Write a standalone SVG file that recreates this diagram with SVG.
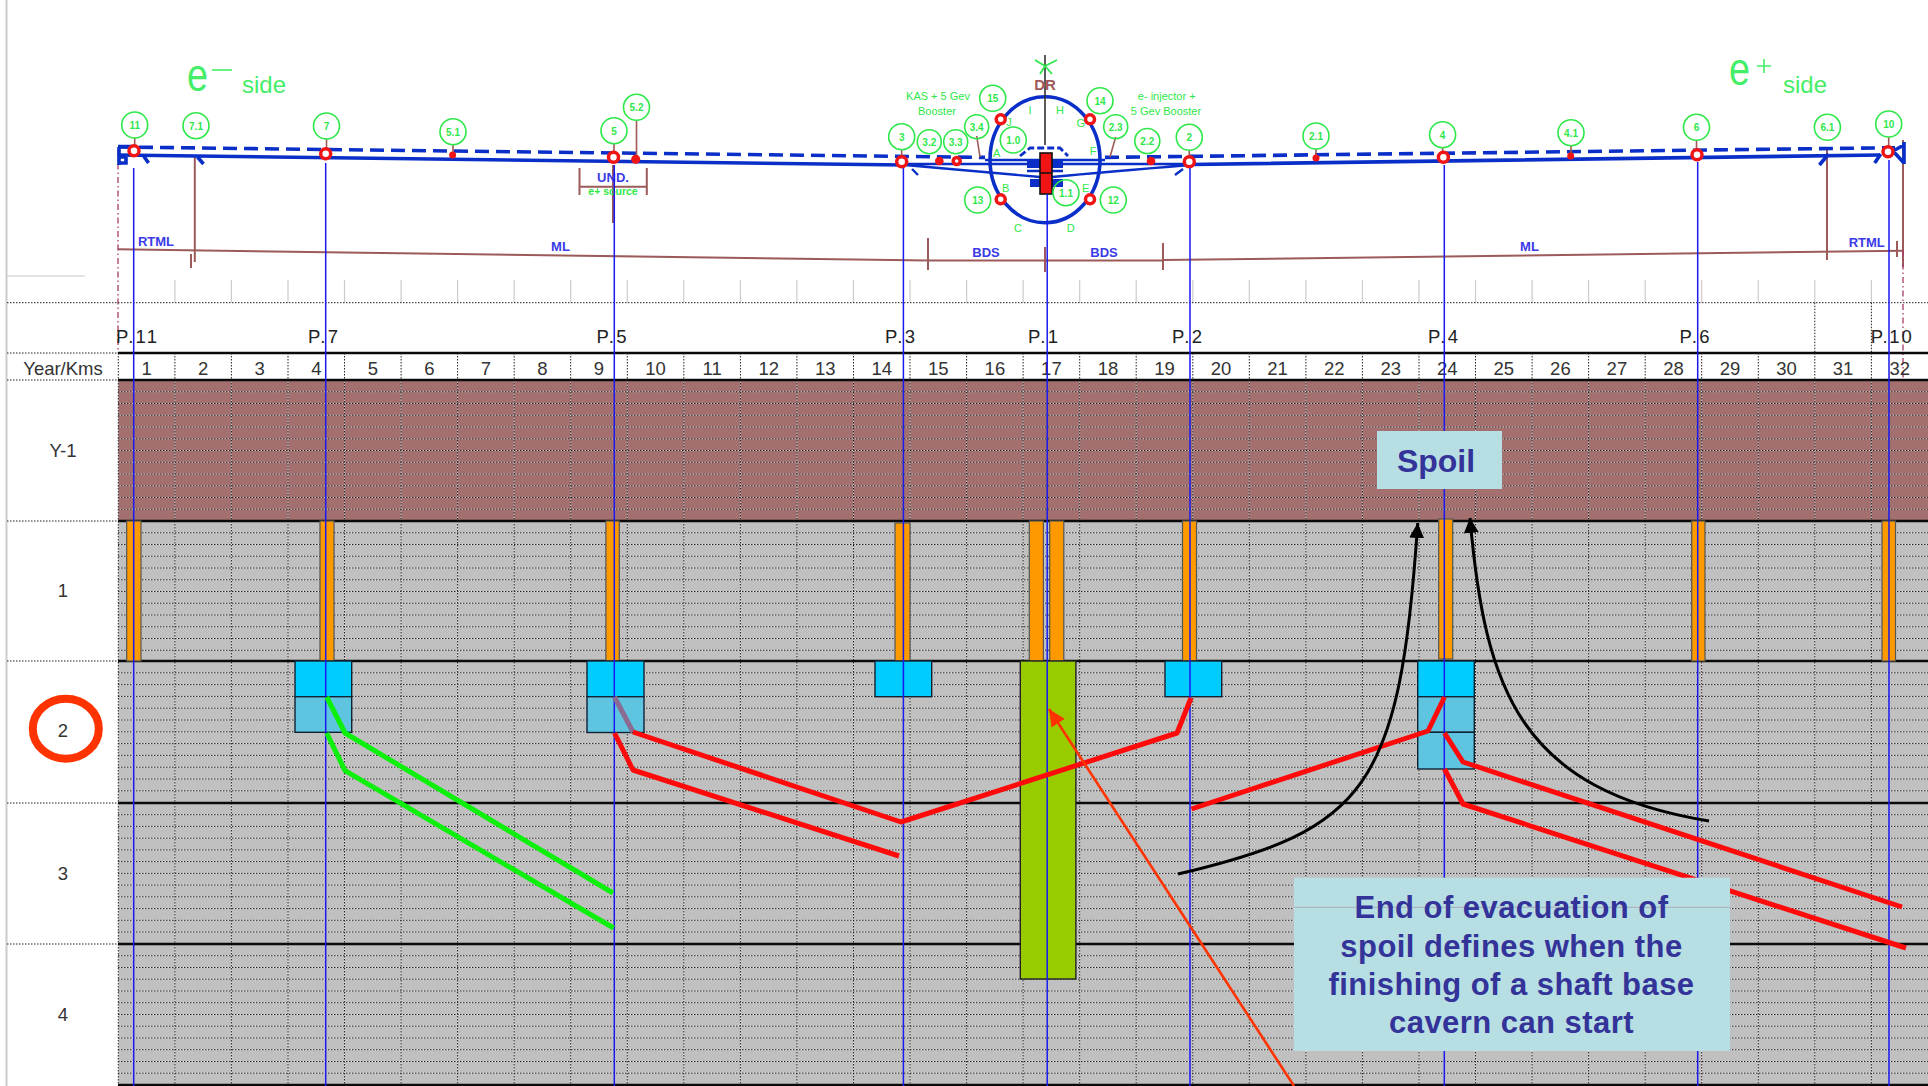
<svg xmlns="http://www.w3.org/2000/svg" xmlns:xlink="http://www.w3.org/1999/xlink" width="1928" height="1086" viewBox="0 0 1928 1086">
<style>
text{font-family:"Liberation Sans",Arial,sans-serif}
.hd{font-size:18.5px;fill:#333;text-anchor:middle}
.p{font-size:18.5px;fill:#222}
.lbl{font-size:18.5px;fill:#333;text-anchor:middle}
.c{fill:#fff;stroke:#2ee84a;stroke-width:1.6}
.ct{font-size:10px;font-weight:bold;fill:#2ee84a;text-anchor:middle}
.gt{font-size:11px;fill:#2ee84a;text-anchor:middle}
.bt{font-size:13px;font-weight:bold;fill:#3a3ae8;text-anchor:middle}
.stem{stroke:#a05858;stroke-width:1.6;fill:none}
.ring{fill:#fff;stroke:#f01414;stroke-width:3.5}
.dot{fill:#f01414}
.beam{stroke:#0a2fc8;stroke-width:3.6;fill:none}
.dash{stroke-dasharray:14 7}
.thin{stroke:#0a2fc8;stroke-width:2.4;fill:none}
.dim{stroke:#9c5a5a;stroke-width:2;fill:none}
.pl{stroke:#1a1af0;stroke-width:1.5;fill:none}
.or{fill:#ff9900;stroke:#555;stroke-width:1.2}
.cy{fill:#00ccff;stroke:#123;stroke-width:1.4}
.cy2{fill:#5fc4e0;stroke:#123;stroke-width:1.4}
.rd{stroke:#ff0a0a;stroke-width:5;fill:none;stroke-linejoin:round}
.gr{stroke:#0cf00c;stroke-width:5;fill:none;stroke-linejoin:round}
.bl{stroke:#000;stroke-width:3;fill:none}
.rule{stroke:#0a0a0a;stroke-width:2.6}
.dw{stroke:#fff;stroke-opacity:.55;stroke-width:1;fill:none}
.dk{stroke:#222;stroke-width:1;stroke-dasharray:1.5 1.5;fill:none}
.callout{fill:#b7dfe3}
.ctext{font-size:31px;font-weight:bold;fill:#333399;text-anchor:middle;letter-spacing:.45px}
</style>
<defs>
<path id="gridH" d="M118 391.75H1928M118 403.5H1928M118 415.25H1928M118 427H1928M118 438.75H1928M118 450.5H1928M118 462.25H1928M118 474H1928M118 485.75H1928M118 497.5H1928M118 509.25H1928M118 532.75H1928M118 544.5H1928M118 556.25H1928M118 568H1928M118 579.75H1928M118 591.5H1928M118 603.25H1928M118 615H1928M118 626.75H1928M118 638.5H1928M118 650.25H1928M118 672.8H1928M118 684.6H1928M118 696.4H1928M118 708.2H1928M118 720H1928M118 731.8H1928M118 743.6H1928M118 755.4H1928M118 767.2H1928M118 779H1928M118 790.8H1928M118 814.7H1928M118 826.4H1928M118 838.2H1928M118 849.9H1928M118 861.6H1928M118 873.4H1928M118 885.1H1928M118 896.8H1928M118 908.6H1928M118 920.3H1928M118 932H1928M118 955.7H1928M118 967.5H1928M118 979.2H1928M118 991H1928M118 1002.7H1928M118 1014.5H1928M118 1026.2H1928M118 1038H1928M118 1049.7H1928M118 1061.5H1928M118 1073.2H1928"/>
<path id="gridV" d="M118.3 380V1086M174.9 380V1086M231.4 380V1086M288 380V1086M344.5 380V1086M401.1 380V1086M457.6 380V1086M514.2 380V1086M570.7 380V1086M627.3 380V1086M683.8 380V1086M740.4 380V1086M796.9 380V1086M853.5 380V1086M910 380V1086M966.6 380V1086M1023.1 380V1086M1079.7 380V1086M1136.2 380V1086M1192.8 380V1086M1249.3 380V1086M1305.9 380V1086M1362.4 380V1086M1419 380V1086M1475.5 380V1086M1532.1 380V1086M1588.6 380V1086M1645.2 380V1086M1701.7 380V1086M1758.3 380V1086M1814.8 380V1086M1871.4 380V1086"/>
<marker id="ah" markerUnits="userSpaceOnUse" markerWidth="18" markerHeight="18" refX="15" refY="7.5" orient="auto"><path d="M0 0L15 7.5L0 15z" fill="#000"/></marker>
<marker id="ar" markerUnits="userSpaceOnUse" markerWidth="20" markerHeight="18" refX="17" refY="8" orient="auto"><path d="M0 0L17 8L0 16z" fill="#ff3300"/></marker>
</defs>
<rect width="1928" height="1086" fill="#fff"/>
<path d="M6.5 0V1086" stroke="#ccc" stroke-width="2"/>
<path d="M7 276H85" stroke="#ccc" stroke-width="1.2"/>

<g id="machine-layout">
<text transform="translate(187 91) scale(.82 1)" font-size="46" fill="#44ee66">e</text>
<path d="M212 70H232" stroke="#44ee66" stroke-width="1.6"/>
<text x="242" y="93" font-size="24" fill="#44ee66" textLength="44" lengthAdjust="spacingAndGlyphs">side</text>
<text transform="translate(1729 85) scale(.82 1)" font-size="46" fill="#44ee66">e</text>
<path d="M1757 66H1771M1764 59V73" stroke="#44ee66" stroke-width="1.6"/>
<text x="1783" y="93" font-size="24" fill="#44ee66" textLength="44" lengthAdjust="spacingAndGlyphs">side</text>

<path class="dim" d="M118 249.3L928 260.5M1163 260L1903 250.7"/>
<path class="dim" d="M928 260.5H1163M928 238V270M1045 247V272M1163 243V270M194.8 156V262M191 254V268M613 165V223M579.5 168V195M646.8 168V195M579.5 186.7H646.8M1827 150V260M1897 241V257M1903 140V267"/>
<path d="M118 150V353M1903 250V420" stroke="#a83a6a" stroke-width="1.3" stroke-dasharray="6 3 1.5 3" fill="none"/>
<path class="beam dash" d="M118 147L985 157.4M1105 157.4L1895 147.7"/>
<path class="beam" d="M118 155L905 165M1190 164.5L1880 155"/>
<path class="beam" d="M118 146.5H132M119 147V165M119 157H126M126 157V163H119M143 155L148.5 163M197.5 157L203.5 164M1828.6 154L1819.4 165M1880.7 154L1874.7 163M1904 142V164M1893 151L1904 145M1893 151L1904 163"/>
<path class="thin" d="M905 165Q985 172 1040 177M1190 165Q1105 172 1052 177M905 164H1190M985 160H1105M912 169L918 175M1183 169L1175 175M1027 171H1063"/>
<path d="M1020 156L1030 148H1060L1068 156" stroke="#0a2fc8" stroke-width="2.8" stroke-dasharray="7 3" fill="none"/>
<rect x="1027" y="160" width="36" height="8" fill="#0a2fc8"/>
<rect x="1030" y="179" width="33" height="8" fill="#0a2fc8"/>
<ellipse cx="1045" cy="159.7" rx="55" ry="63" fill="none" stroke="#0a2fc8" stroke-width="3.6"/>
<path d="M1045 55V145" stroke="#333" stroke-width="1.6"/>
<rect x="1040" y="153" width="12" height="41" fill="#f01414" stroke="#111" stroke-width="1.6"/>
<path d="M1040 173H1052" stroke="#111" stroke-width="1.5"/>
<path d="M1035 60L1045 66L1057 60M1040 74L1045 66L1052 74" stroke="#2ee84a" stroke-width="1.8" fill="none"/>
<text x="1045" y="90" font-size="15" font-weight="bold" fill="#a05858" text-anchor="middle">DR</text>

<path class="stem" d="M134.7 138V150M326.5 139V153M453 145V155M614 144V157M636.5 120V158M901.7 150V161M976.7 136L980 157M1115.7 137L1110 157M1189.3 150V161M1316 149V158M1442.6 148V157M1571 146V155M1696.5 140V154M1888.7 137V151"/>

<g id="n11"><circle class="c" cx="134.7" cy="125" r="13"/><text class="ct" x="134.7" y="129">11</text></g>
<g id="n7-1"><circle class="c" cx="196" cy="125.7" r="13"/><text class="ct" x="196" y="129.5">7.1</text></g>
<g id="n7"><circle class="c" cx="326.5" cy="126" r="13"/><text class="ct" x="326.5" y="130">7</text></g>
<g id="n5-1"><circle class="c" cx="453" cy="131.7" r="13"/><text class="ct" x="453" y="135.5">5.1</text></g>
<g id="n5"><circle class="c" cx="614" cy="130.7" r="13"/><text class="ct" x="614" y="134.5">5</text></g>
<g id="n5-2"><circle class="c" cx="636.5" cy="107.3" r="13"/><text class="ct" x="636.5" y="111">5.2</text></g>
<g id="n3"><circle class="c" cx="901.7" cy="136.7" r="13"/><text class="ct" x="901.7" y="140.5">3</text></g>
<g id="n3-2"><circle class="c" cx="929.3" cy="141.7" r="12" style="fill:none"/><text class="ct" x="929.3" y="145.5">3.2</text></g>
<g id="n3-3"><circle class="c" cx="955.7" cy="141.7" r="12" style="fill:none"/><text class="ct" x="955.7" y="145.5">3.3</text></g>
<g id="n3-4"><circle class="c" cx="976.7" cy="126.7" r="12" style="fill:none"/><text class="ct" x="976.7" y="130.5">3.4</text></g>
<g id="n15"><circle class="c" cx="992.7" cy="98.3" r="13" style="fill:none"/><text class="ct" x="992.7" y="102">15</text></g>
<g id="n1-0"><circle class="c" cx="1013.3" cy="140" r="13" style="fill:none"/><text class="ct" x="1013.3" y="144">1.0</text></g>
<g id="n14"><circle class="c" cx="1100" cy="100.7" r="13" style="fill:none"/><text class="ct" x="1100" y="104.5">14</text></g>
<g id="n2-3"><circle class="c" cx="1115.7" cy="126.7" r="12" style="fill:none"/><text class="ct" x="1115.7" y="130.5">2.3</text></g>
<g id="n2-2"><circle class="c" cx="1147.3" cy="141" r="12.5" style="fill:none"/><text class="ct" x="1147.3" y="145">2.2</text></g>
<g id="n2"><circle class="c" cx="1189.3" cy="137.3" r="13"/><text class="ct" x="1189.3" y="141">2</text></g>
<g id="n13"><circle class="c" cx="977.7" cy="200" r="13" style="fill:none"/><text class="ct" x="977.7" y="204">13</text></g>
<g id="n12"><circle class="c" cx="1113.3" cy="200" r="13" style="fill:none"/><text class="ct" x="1113.3" y="204">12</text></g>
<g id="n1-1"><circle class="c" cx="1066" cy="192.7" r="13" style="fill:none"/><text class="ct" x="1066" y="196.5">1.1</text></g>
<g id="n2-1"><circle class="c" cx="1316" cy="136" r="13"/><text class="ct" x="1316" y="140">2.1</text></g>
<g id="n4"><circle class="c" cx="1442.6" cy="134.7" r="13"/><text class="ct" x="1442.6" y="138.5">4</text></g>
<g id="n4-1"><circle class="c" cx="1571" cy="132.7" r="13"/><text class="ct" x="1571" y="136.5">4.1</text></g>
<g id="n6"><circle class="c" cx="1696.5" cy="127.3" r="13"/><text class="ct" x="1696.5" y="131">6</text></g>
<g id="n6-1"><circle class="c" cx="1827.4" cy="127.3" r="13"/><text class="ct" x="1827.4" y="131">6.1</text></g>
<g id="n10"><circle class="c" cx="1888.7" cy="124" r="13"/><text class="ct" x="1888.7" y="128">10</text></g>

<circle class="ring" cx="134" cy="150.7" r="5"/><circle class="ring" cx="325.7" cy="153.7" r="5"/><circle class="ring" cx="613.5" cy="157.3" r="5"/><circle class="ring" cx="901.7" cy="161.7" r="5"/><circle class="ring" cx="956.7" cy="161" r="3.5"/><circle class="ring" cx="1000.7" cy="119.3" r="4.5"/><circle class="ring" cx="1090" cy="119.3" r="4.5"/><circle class="ring" cx="1000.7" cy="199.3" r="4.5"/><circle class="ring" cx="1090" cy="199.3" r="4.5"/><circle class="ring" cx="1189.3" cy="161.7" r="5"/><circle class="ring" cx="1443.4" cy="157.3" r="5"/><circle class="ring" cx="1697" cy="154.7" r="5"/><circle class="ring" cx="1888" cy="151.7" r="5"/>
<circle class="dot" cx="452.6" cy="155" r="3.5"/><circle class="dot" cx="635.7" cy="159.3" r="4.5"/><circle class="dot" cx="939.3" cy="161" r="4.3"/><circle class="dot" cx="1151" cy="161" r="4.3"/><circle class="dot" cx="1316" cy="158" r="3.5"/><circle class="dot" cx="1570.7" cy="156" r="3.5"/>

<text class="gt" x="938" y="100">KAS + 5 Gev</text><text class="gt" x="937" y="115">Booster</text>
<text class="gt" x="1166.7" y="100">e- injector +</text><text class="gt" x="1166" y="115">5 Gev Booster</text>
<text class="gt" x="1030" y="114">I</text><text class="gt" x="1060" y="114">H</text><text class="gt" x="1009" y="125.5">J</text><text class="gt" x="1080.7" y="127">G</text><text class="gt" x="996.7" y="157">A</text><text class="gt" x="1093" y="155">F</text><text class="gt" x="1005.7" y="192">B</text><text class="gt" x="1085.7" y="192">E</text><text class="gt" x="1018" y="232">C</text><text class="gt" x="1070.7" y="232">D</text>
<text class="bt" x="156" y="246">RTML</text><text class="bt" x="560.5" y="251">ML</text><text class="bt" x="613" y="182">UND.</text>
<text x="613" y="195" font-size="10.5" font-weight="bold" fill="#2ee84a" text-anchor="middle">e+ source</text>
<text class="bt" x="986" y="257">BDS</text><text class="bt" x="1104" y="257">BDS</text><text class="bt" x="1529.5" y="251">ML</text><text class="bt" x="1866.7" y="247">RTML</text>
</g>

<g id="header">
<path d="M174.9 280V302.7M231.4 280V302.7M288 280V302.7M344.5 280V302.7M401.1 280V302.7M457.6 280V302.7M514.2 280V302.7M570.7 280V302.7M627.3 280V302.7M683.8 280V302.7M740.4 280V302.7M796.9 280V302.7M853.5 280V302.7M910 280V302.7M966.6 280V302.7M1023.1 280V302.7M1079.7 280V302.7M1136.2 280V302.7M1192.8 280V302.7M1249.3 280V302.7M1305.9 280V302.7M1362.4 280V302.7M1419 280V302.7M1475.5 280V302.7M1532.1 280V302.7M1588.6 280V302.7M1645.2 280V302.7M1701.7 280V302.7M1758.3 280V302.7M1814.8 280V302.7M1871.4 280V302.7" stroke="#ccc" stroke-width="1.2"/>
<path class="dk" d="M7 302.7H1928M7 353H118M7 380H118M7 521H118M7 661H118M7 803H118M7 944H118M1814.8 302.7V353M1871.4 302.7V353M118.3 353V380M174.9 353V380M231.4 353V380M288 353V380M344.5 353V380M401.1 353V380M457.6 353V380M514.2 353V380M570.7 353V380M627.3 353V380M683.8 353V380M740.4 353V380M796.9 353V380M853.5 353V380M910 353V380M966.6 353V380M1023.1 353V380M1079.7 353V380M1136.2 353V380M1192.8 353V380M1249.3 353V380M1305.9 353V380M1362.4 353V380M1419 353V380M1475.5 353V380M1532.1 353V380M1588.6 353V380M1645.2 353V380M1701.7 353V380M1758.3 353V380M1814.8 353V380M1871.4 353V380"/>
<path class="rule" d="M118 353H1928"/>
<text class="p" x="116" y="343" textLength="41">P.11</text><text class="p" x="308" y="343" textLength="30">P.7</text><text class="p" x="596.5" y="343" textLength="30">P.5</text><text class="p" x="885" y="343" textLength="30">P.3</text><text class="p" x="1028" y="343" textLength="30">P.1</text><text class="p" x="1172" y="343" textLength="30">P.2</text><text class="p" x="1428" y="343" textLength="30">P.4</text><text class="p" x="1679.6" y="343" textLength="30">P.6</text><text class="p" x="1870.7" y="343" textLength="41">P.10</text>
<text class="lbl" x="63" y="375">Year/Kms</text>
<text class="hd" x="146.6" y="375">1</text><text class="hd" x="203.2" y="375">2</text><text class="hd" x="259.7" y="375">3</text><text class="hd" x="316.3" y="375">4</text><text class="hd" x="372.8" y="375">5</text><text class="hd" x="429.4" y="375">6</text><text class="hd" x="485.9" y="375">7</text><text class="hd" x="542.5" y="375">8</text><text class="hd" x="599" y="375">9</text><text class="hd" x="655.6" y="375">10</text><text class="hd" x="712.1" y="375">11</text><text class="hd" x="768.7" y="375">12</text><text class="hd" x="825.2" y="375">13</text><text class="hd" x="881.8" y="375">14</text><text class="hd" x="938.3" y="375">15</text><text class="hd" x="994.9" y="375">16</text><text class="hd" x="1051.4" y="375">17</text><text class="hd" x="1108" y="375">18</text><text class="hd" x="1164.5" y="375">19</text><text class="hd" x="1221.1" y="375">20</text><text class="hd" x="1277.6" y="375">21</text><text class="hd" x="1334.2" y="375">22</text><text class="hd" x="1390.7" y="375">23</text><text class="hd" x="1447.3" y="375">24</text><text class="hd" x="1503.8" y="375">25</text><text class="hd" x="1560.4" y="375">26</text><text class="hd" x="1616.9" y="375">27</text><text class="hd" x="1673.5" y="375">28</text><text class="hd" x="1730" y="375">29</text><text class="hd" x="1786.6" y="375">30</text><text class="hd" x="1843.1" y="375">31</text><text class="hd" x="1899.7" y="375">32</text>
<text class="lbl" x="63" y="457">Y-1</text><text class="lbl" x="63" y="597">1</text><text class="lbl" x="63" y="737">2</text><text class="lbl" x="63" y="880">3</text><text class="lbl" x="63" y="1021">4</text>
</g>
<ellipse id="row-2-mark" cx="65.8" cy="728.7" rx="33" ry="30" fill="none" stroke="#ff3300" stroke-width="8"/>

<g id="grid">
<rect x="118" y="380" width="1810" height="141" fill="#a36f6f"/>
<rect x="118" y="521" width="1810" height="565" fill="#c0c0c0"/>
<use href="#gridH" class="dw"/><use href="#gridV" class="dw"/>
<use href="#gridH" class="dk"/><use href="#gridV" class="dk"/>
<path class="rule" d="M118 380H1928M118 521H1928M118 661H1928M118 803H1928M118 944H1928M118 1085H1928"/>
</g>

<g id="shafts">
<rect class="or" x="126.7" y="521" width="14.3" height="140"/>
<rect class="or" x="320" y="521" width="14" height="140"/>
<rect class="or" x="605.9" y="521" width="13.4" height="140"/>
<rect class="or" x="895" y="523" width="15" height="138"/>
<rect class="or" x="1029.3" y="521" width="14.1" height="140"/>
<rect class="or" x="1049.7" y="521" width="14.1" height="140"/>
<rect class="or" x="1182.5" y="521" width="14" height="140"/>
<rect class="or" x="1438.7" y="519" width="14" height="140"/>
<rect class="or" x="1691.7" y="521" width="13.3" height="140"/>
<rect class="or" x="1882" y="521" width="13.5" height="140"/>
</g>
<g id="caverns">
<rect class="cy" x="295" y="661" width="56.7" height="35.7"/><rect class="cy2" x="295" y="696.7" width="56.7" height="35.6"/>
<rect class="cy" x="587" y="661" width="57" height="35.7"/><rect class="cy2" x="587" y="696.7" width="57" height="35.8"/>
<rect class="cy" x="875" y="661" width="56.7" height="35.7"/>
<rect class="cy" x="1165" y="661" width="56.7" height="35.7"/>
<rect class="cy" x="1417.7" y="661" width="56.6" height="35.7"/><rect class="cy2" x="1417.7" y="696.7" width="56.6" height="35.6"/><rect class="cy2" x="1417.7" y="732.3" width="56.6" height="36.7"/>
<rect x="1020.3" y="661" width="55.6" height="318" fill="#99cc00" stroke="#222" stroke-width="1.4"/>
</g>

<g id="connectors">
<path class="pl" d="M133.7 168V1086M325.7 163V1086M614.3 165V1086M903.4 168V1086M1047.2 194V1086M1190 168V1086M1444.3 165V1086M1697.7 162V1086M1889 160V1086"/>
<path d="M614.5 697L633 732" stroke="#8b6b92" stroke-width="5" fill="none"/>
<path class="rd" d="M633 732L901 822L1177 733L1191 698M614.5 733L633 770L899 856M1191.5 809L1428 731L1444.5 697M1444.5 733L1463 762L1902 907M1444.5 769L1463 804L1906 948"/>
<path class="gr" d="M326.7 697L345 733L613 893M326.7 733L345 770.7L613.6 928"/>
<path class="bl" marker-end="url(#ah)" d="M1178 874C1365 830 1400 790 1417.7 523"/>
<path class="bl" marker-end="url(#ah)" d="M1709 821C1520 790 1485 690 1470 518"/>
<path d="M1294 1086L1049 709" stroke="#ff3300" stroke-width="2.6" marker-end="url(#ar)" fill="none"/>
</g>

<g id="spoil-note">
<rect class="callout" x="1377" y="431" width="125" height="58"/>
<text x="1436" y="471.7" font-size="32" font-weight="bold" fill="#333399" text-anchor="middle">Spoil</text>
</g>
<g id="evacuation-note">
<rect class="callout" x="1294" y="877.7" width="436" height="173.3"/>
<path d="M1294 907.3H1730" stroke="#aab" stroke-width="1"/>
<text class="ctext" x="1511.5" y="917.7">End of evacuation of</text>
<text class="ctext" x="1511.5" y="956.7">spoil defines when the</text>
<text class="ctext" x="1511.5" y="995">finishing of a shaft base</text>
<text class="ctext" x="1511.5" y="1033.3">cavern can start</text>
</g>
</svg>
